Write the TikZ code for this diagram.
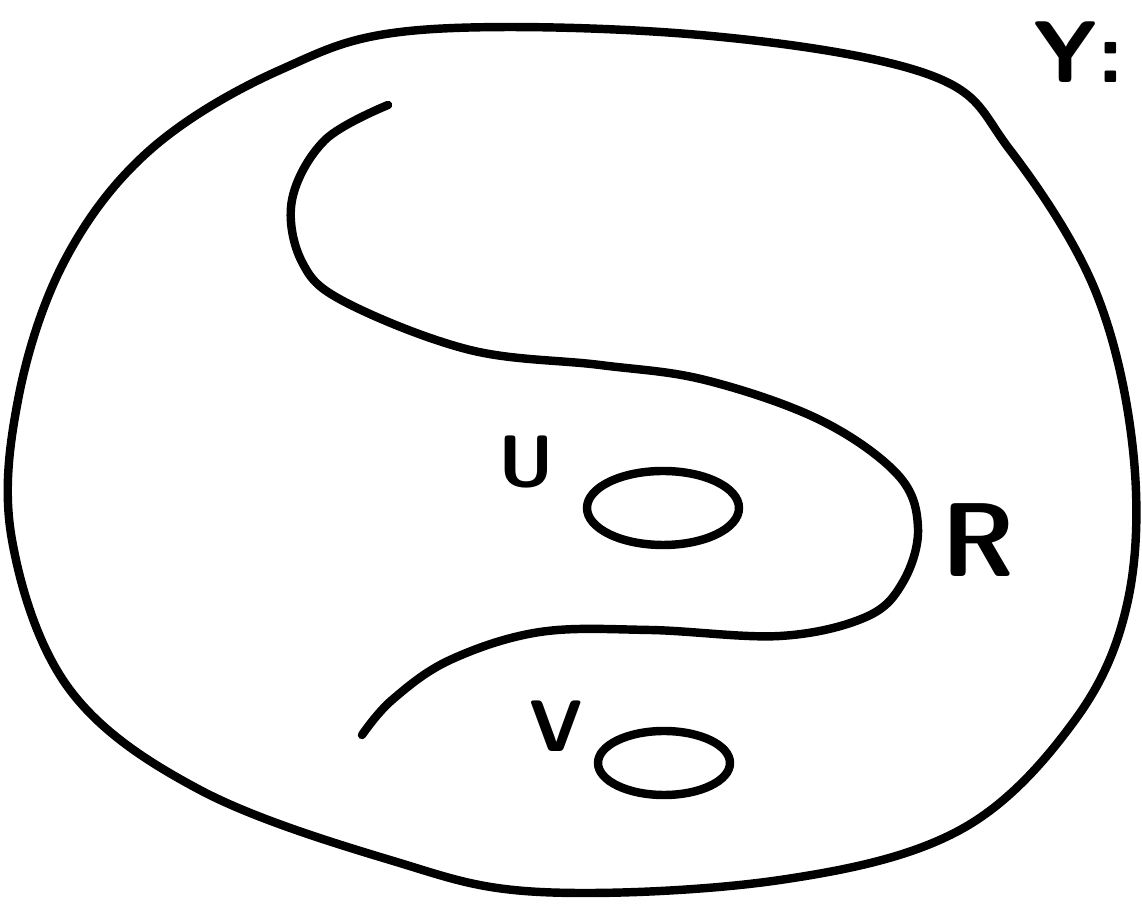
\documentclass[tikz,border=0pt]{standalone}
\usepackage{tikz}
\usepackage{amsmath}

\begin{document}
\begin{tikzpicture}[x=0.01cm, y=-0.01cm, line width=2.4pt, line cap=round, line join=round,
  every node/.style={font=\sffamily\bfseries}]
\useasboundingbox (0,0) rectangle (1142,904);
% outer region
\draw plot[smooth cycle, tension=0.6] coordinates {(420,30) (700,35) (930,75) (1010,150) (1095,290) (1133,450) (1128,600) (1075,720) (960,830) (780,880) (540,892) (390,860) (200,790) (70,690) (12,540) (18,400) (65,260) (150,150) (280,70)};
% the curve R
\draw plot[smooth, tension=0.6] coordinates {(388,105) (325,140) (292,200) (302,262) (345,302) (470,350) (600,365) (705,380) (820,420) (898,475) (918,528) (903,582) (866,617) (780,636) (650,630) (540,632) (450,660) (392,700) (362,735)};
% small regions
\draw (663,508) ellipse (76 and 37);
\draw (664,763) ellipse (66 and 32);
% labels
\node[font=\sffamily\bfseries\huge] (u) at (526,462) {U};
\node[font=\sffamily\bfseries\huge] (v) at (556,726) {V};
\node[font=\sffamily\bfseries\Huge, scale=1.2] (r) at (978,540) {R};
\node[font=\sffamily\bfseries\Huge, anchor=east] (y) at (1140,52) {Y:};
\end{tikzpicture}
\end{document}
